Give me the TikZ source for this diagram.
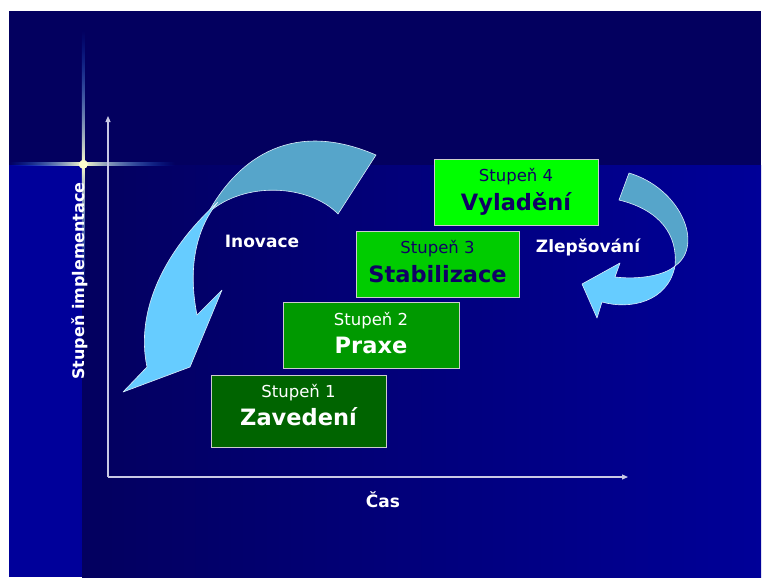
\documentclass[tikz,border=0pt]{standalone}
\usepackage{fontspec}
\setmainfont{DejaVu Sans}
\usetikzlibrary{arrows.meta,fadings,calc}

\definecolor{navy}{RGB}{3,0,95}
\definecolor{stripblue}{RGB}{0,0,154}
\definecolor{rightblue}{RGB}{0,0,152}
\definecolor{flareblue}{RGB}{0,100,255}
\definecolor{flarecore}{RGB}{255,255,205}
\definecolor{axisgrey}{RGB}{200,200,228}
\definecolor{boxedge}{RGB}{205,205,205}
\definecolor{stepA}{RGB}{0,100,0}
\definecolor{stepB}{RGB}{0,153,0}
\definecolor{stepC}{RGB}{0,204,0}
\definecolor{stepD}{RGB}{0,255,0}
\definecolor{darktext}{RGB}{16,0,100}
\definecolor{ribbonback}{RGB}{86,165,202}
\definecolor{ribbonfront}{RGB}{102,204,255}
\definecolor{ribbonedge}{RGB}{220,238,250}

\tikzfading[name=fade right, left color=transparent!0, right color=transparent!100]
\tikzfading[name=fade left, left color=transparent!100, right color=transparent!0]
\tikzfading[name=fade up, bottom color=transparent!0, top color=transparent!100]
\tikzfading[name=fade down, top color=transparent!0, bottom color=transparent!100]

\begin{document}
\begin{tikzpicture}[x=1pt,y=-1pt,
  stagebox/.style={draw=boxedge, line width=0.8pt, inner sep=0pt},
  smalllabel/.style={anchor=base, inner sep=0pt, font=\fontsize{16.5}{19}\selectfont},
  biglabel/.style={anchor=base, inner sep=0pt, font=\bfseries\fontsize{22.5}{26}\selectfont},
  sidelabel/.style={inner sep=0pt, text=white, font=\bfseries\fontsize{17}{20}\selectfont},
  axisline/.style={draw=axisgrey, line width=1.1pt, -{Triangle[length=6pt,width=5pt]}},
  ribbon/.style={draw=ribbonedge, line width=0.6pt, line join=round}]

\useasboundingbox (0,0) rectangle (762,578);
\fill[white] (0,0) rectangle (762,578);

% slide background
\fill[navy] (9,11) rectangle (761,165);
\fill[stripblue] (9,165) rectangle (82,577);
\shade[left color=navy, right color=rightblue] (82,165) rectangle (761,577);

% lens flare
\shade[left color=flareblue, right color=flarecore, path fading=fade left] (9,162.6) rectangle (83,165.2);
\shade[left color=flarecore, right color=flareblue, path fading=fade right] (83,162.6) rectangle (175,165.2);
\shade[bottom color=flarecore, top color=flareblue, path fading=fade up] (81.8,30) rectangle (84.4,164);
\shade[top color=flarecore, bottom color=flareblue, path fading=fade down] (81.8,164) rectangle (84.4,300);
\fill[flarecore, path fading=circle with fuzzy edge 15 percent] (83,164) circle (5);

% axes
\coordinate (O) at (108,477);
\coordinate (ytop) at (108,116);
\coordinate (xend) at (628,477);
\draw[axisline] (O) -- (ytop);
\draw[axisline] (O) -- (xend);

\node[sidelabel, rotate=90, font=\bfseries\fontsize{16}{19}\selectfont] (ylab) at (80,281) {Stupeň implementace};
\node[sidelabel] (xlab) at (383,500) {Čas};

% stage boxes
\node[stagebox, fill=stepA, minimum width=175pt, minimum height=72pt] (s1) at (298.5,411) {};
\node[stagebox, fill=stepB, minimum width=176pt, minimum height=66pt] (s2) at (371,335) {};
\node[stagebox, fill=stepC, minimum width=163pt, minimum height=66pt] (s3) at (437.5,264) {};
\node[stagebox, fill=stepD, minimum width=164pt, minimum height=66pt] (s4) at (516,192) {};

\node[smalllabel, text=white] (s1a) at ($(s1.north)+(0,23)$) {Stupeň 1};
\node[biglabel, text=white] (s1b) at ($(s1.north)+(0,51)$) {Zavedení};
\node[smalllabel, text=white] (s2a) at ($(s2.north)+(0,24)$) {Stupeň 2};
\node[biglabel, text=white] (s2b) at ($(s2.north)+(0,52)$) {Praxe};
\node[smalllabel, text=darktext] (s3a) at ($(s3.north)+(0,23)$) {Stupeň 3};
\node[biglabel, text=darktext] (s3b) at ($(s3.north)+(0,52)$) {Stabilizace};
\node[smalllabel, text=darktext] (s4a) at ($(s4.north)+(0,23)$) {Stupeň 4};
\node[biglabel, text=darktext] (s4b) at ($(s4.north)+(0,52)$) {Vyladění};

% innovation ribbon arrow
\path[ribbon, fill=ribbonback] (376,155) .. controls (295,120) and (240,155) .. (208,213)
  .. controls (245,180) and (310,185) .. (338,214) -- cycle;
\path[ribbon, fill=ribbonfront] (218,202) .. controls (165,250) and (135,310) .. (147,367)
  -- (123,392) -- (190,367) -- (222,290) -- (197,315)
  .. controls (188,270) and (195,230) .. (218,202) -- cycle;
\node[sidelabel] (inov) at (262,241) {Inovace};

% improvement ribbon arrow
\path[ribbon, fill=ribbonback] (629,173) .. controls (680,188) and (705,245) .. (675,266)
  .. controls (678,235) and (660,210) .. (619,200) -- cycle;
\path[ribbon, fill=ribbonfront] (675,266) .. controls (668,302) and (630,310) .. (602,302)
  -- (597,318) -- (582,284) -- (620,263) -- (615,277)
  .. controls (640,280) and (665,275) .. (675,266) -- cycle;
\node[sidelabel] (zlep) at (588,247) {Zlepšování};

\end{tikzpicture}
\end{document}
